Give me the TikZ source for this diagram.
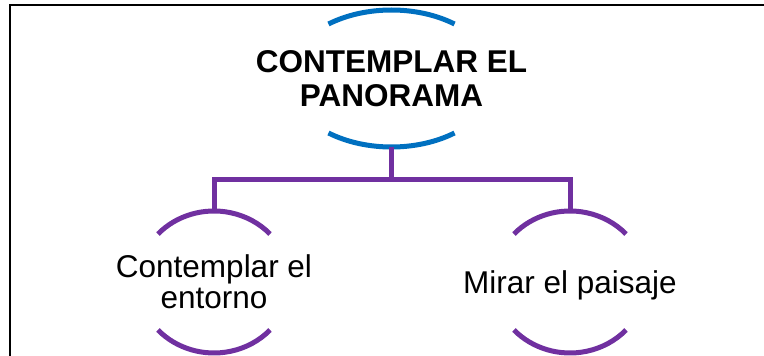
\documentclass[tikz,border=0pt]{standalone}
\usepackage{fontspec}
\setmainfont{Liberation Sans}
\definecolor{rootblue}{HTML}{0070C0}
\definecolor{childpurple}{HTML}{7030A0}
\begin{document}
\begin{tikzpicture}[
    x=1pt, y=1pt,
    rootbox/.style={rectangle, inner sep=0pt, minimum height=137pt, align=center, font=\fontsize{31.5}{34}\selectfont\bfseries},
    childbox/.style={rectangle, inner sep=0pt, minimum height=142pt, align=center, font=\fontsize{31.5}{31}\selectfont},
    rootarc/.style={draw=rootblue, line width=5pt},
    childarc/.style={draw=childpurple, line width=5pt},
    link/.style={draw=childpurple, line width=5pt}
]
    \useasboundingbox (0,0) rectangle (764,356);

    % Frame
    \draw[line width=1.6pt] (10,0) -- (10,351) -- (764,351);

    % Top node
    \node[rootbox] (root) at (391.5,277.5) {CONTEMPLAR EL\\PANORAMA};
    \draw[rootarc] ([shift={(127.3:104 and 68.5)}]root.center) arc[start angle=127.3, end angle=52.7, x radius=104, y radius=68.5];
    \draw[rootarc] ([shift={(232.7:104 and 68.5)}]root.center) arc[start angle=232.7, end angle=307.3, x radius=104, y radius=68.5];

    % Left child
    \node[childbox] (left) at (214,74) {Contemplar el\\entorno};
    \draw[childarc] ([shift={(137.5:76 and 71)}]left.center) arc[start angle=137.5, end angle=42.5, x radius=76, y radius=71];
    \draw[childarc] ([shift={(222.5:76 and 71)}]left.center) arc[start angle=222.5, end angle=317.5, x radius=76, y radius=71];

    % Right child
    \node[childbox, text depth=0pt] (right) at (570,74) {Mirar el paisaje};
    \draw[childarc] ([shift={(137.5:76 and 71)}]right.center) arc[start angle=137.5, end angle=42.5, x radius=76, y radius=71];
    \draw[childarc] ([shift={(222.5:76 and 71)}]right.center) arc[start angle=222.5, end angle=317.5, x radius=76, y radius=71];

    % Connectors
    \draw[link] (root.south) -- ++(0,-32) coordinate (bar);
    \draw[link] (left.north) |- (bar) -| (right.north);
\end{tikzpicture}
\end{document}
